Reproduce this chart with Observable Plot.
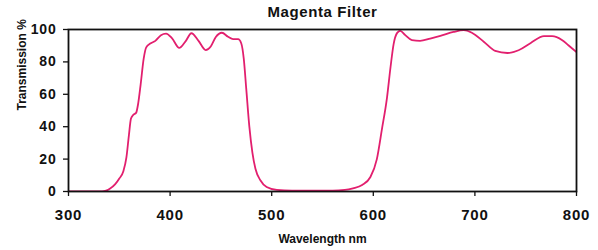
<!DOCTYPE html>
<html>
<head>
<meta charset="utf-8">
<script src="https://cdn.jsdelivr.net/npm/d3@7"></script>
<script src="https://cdn.jsdelivr.net/npm/@observablehq/plot@0.6"></script>
<style>
  html, body { margin: 0; padding: 0; background: #fff; }
  #chart svg { display: block; }
  #chart g[aria-label="x-axis tick label"] text,
  #chart g[aria-label="y-axis tick label"] text { letter-spacing: 0.8px; }
  #chart g.title-text text { letter-spacing: 0.6px; }
</style>
</head>
<body>
<div id="chart"></div>
<script>
const title = "Magenta Filter";
const xLabel = "Wavelength nm";
const yLabel = "Transmission %";
const xTicks = [300, 400, 500, 600, 700, 800];
const yTicks = [0, 20, 40, 60, 80, 100];

const wavelength = [300, 333, 337, 341, 346, 350, 354, 357, 359.5, 361.5, 364, 366.5, 368.5, 371, 374, 376.5, 380.5, 385.5, 391, 396, 402, 409, 415, 421, 428, 435, 440, 445, 451, 457, 462, 467, 470, 472.5, 475, 478, 481, 484, 489, 495, 505, 520, 560, 572, 580, 589, 597, 603.5, 608.5, 613.5, 617, 620, 623.5, 626.5, 631.5, 638, 646, 656, 666, 679, 689, 697, 709, 720, 732, 743, 755, 768, 776, 786, 792, 800];
const transmission = [0, 0, 0.5, 1.8, 4.5, 8, 12.5, 21, 35, 45, 47.5, 48.5, 54, 66, 82, 89, 91.3, 93, 96.5, 97.5, 94.5, 88.6, 92.5, 97.7, 93, 87.3, 89.5, 95.4, 98, 95.5, 94, 94, 91.5, 82, 63, 40, 24, 14, 6.8, 2.8, 1, 0.6, 0.6, 1, 2, 4, 8.8, 20, 38.5, 58, 77, 91, 97.9, 99.2, 96.5, 93.4, 93, 94.4, 96, 98.5, 99.6, 98, 92.3, 86.8, 85.5, 87.2, 91.7, 95.9, 95.9, 93.4, 90.3, 86];

const data = wavelength.map((w, i) => ({w, t: transmission[i]}));
const font = "'Liberation Sans', Arial, Helvetica, sans-serif";

const chart = Plot.plot({
  width: 598,
  height: 250,
  marginLeft: 68,
  marginRight: 22,
  marginTop: 29,
  marginBottom: 59,
  style: {fontFamily: font, background: "#fff", color: "#111"},
  x: {domain: [300, 800]},
  y: {domain: [0, 100]},
  marks: [
    Plot.line(data, {x: "w", y: "t", stroke: "#e21f6e", strokeWidth: 1.8, curve: "monotone-x", clip: true}),
    Plot.frame({stroke: "#111", strokeWidth: 1.8}),
    Plot.axisX({ticks: xTicks, tickSize: 5, tickPadding: 13, fontSize: 15, fontWeight: "bold", label: null, stroke: "#111", strokeWidth: 1.3}),
    Plot.axisY({ticks: yTicks, tickSize: 5, tickPadding: 7, fontSize: 14, fontWeight: "bold", label: null, stroke: "#111", strokeWidth: 1.3}),
    Plot.text([title], {frameAnchor: "top", dy: -17, fontSize: 15, fontWeight: "bold", fill: "#111", lineAnchor: "middle", className: "title-text"}),
    Plot.text([xLabel], {frameAnchor: "bottom", dy: 48, fontSize: 12, fontWeight: "bold", fill: "#111", lineAnchor: "middle"}),
    Plot.text([yLabel], {frameAnchor: "left", dx: -46, rotate: -90, fontSize: 12, fontWeight: "bold", fill: "#111", lineAnchor: "middle"})
  ]
});
document.getElementById("chart").appendChild(chart);
</script>
</body>
</html>
